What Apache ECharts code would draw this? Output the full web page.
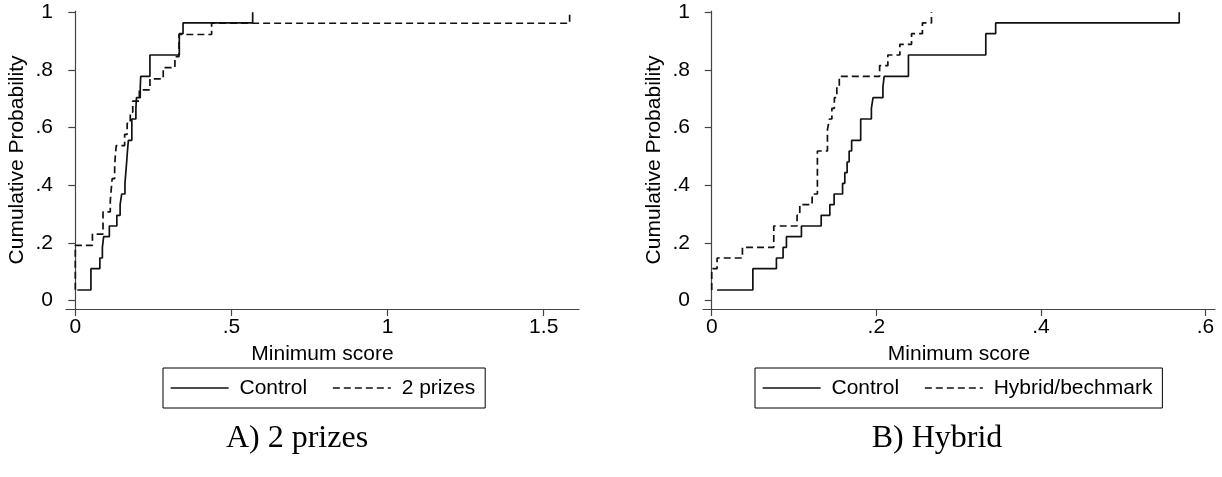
<!DOCTYPE html>
<html>
<head>
<meta charset="utf-8">
<script src="https://cdn.jsdelivr.net/npm/echarts@6/dist/echarts.min.js"></script>
<style>
  html, body { margin: 0; padding: 0; background: #fff; }
  #chart { width: 1222px; height: 477px; }
</style>
</head>
<body>
<div id="chart"></div>
<script>
// 数据: 最低分 / 累计概率
const controlScore = [0.0065, 0.050, 0.0786, 0.0867, 0.0908, 0.109, 0.133, 0.1435, 0.1487, 0.159, 0.1617, 0.1645, 0.167, 0.170, 0.181, 0.194, 0.196, 0.208, 0.2095, 0.239, 0.333, 0.345, 0.568]
const controlProb = [0.037, 0.111, 0.148, 0.185, 0.222, 0.259, 0.296, 0.333, 0.370, 0.407, 0.444, 0.481, 0.519, 0.556, 0.630, 0.667, 0.704, 0.741, 0.778, 0.852, 0.926, 0.963, 1]

const prizesScore = [0, 0, 0.0548, 0.0888, 0.112, 0.115, 0.118, 0.126, 0.128, 0.131, 0.158, 0.166, 0.176, 0.184, 0.205, 0.239, 0.2816, 0.319, 0.332, 0.4365, 1.583]
const prizesProb = [0.038, 0.192, 0.231, 0.308, 0.346, 0.385, 0.423, 0.462, 0.500, 0.538, 0.577, 0.615, 0.654, 0.692, 0.731, 0.769, 0.808, 0.846, 0.923, 0.962, 1]

const hybridScore = [0, 0, 0.0065, 0.0373, 0.0754, 0.1037, 0.107, 0.122, 0.1284, 0.1406, 0.143, 0.146, 0.149, 0.152, 0.155, 0.204, 0.214, 0.2286, 0.2428, 0.256, 0.267]
const hybridProb = [0.037, 0.111, 0.148, 0.185, 0.259, 0.296, 0.333, 0.370, 0.519, 0.593, 0.630, 0.667, 0.704, 0.741, 0.778, 0.815, 0.852, 0.889, 0.926, 0.963, 1]

// 刻度
const yTicks = [0, 0.2, 0.4, 0.6, 0.8, 1]
const xTicksA = [0, 0.5, 1, 1.5]
const xTicksB = [0, 0.2, 0.4, 0.6]

const font = 'Liberation Sans'
const lineColor = '#111'
const axisColor = '#444'
const dash = [7, 4]

function pairs(xs, ys) {
    let out = []
    for (let i = 0; i < xs.length; i++) {
        out.push([xs[i], ys[i]])
    }
    return out
}

// 0.2 -> '.2'
function stataLabel(v) {
    return String(+v.toFixed(2)).replace(/^0\./, '.')
}

function xAxisOf(gridIndex, min, max, ticks) {
    return {
        type: 'value',
        gridIndex: gridIndex,
        min: min,
        max: max,
        name: 'Minimum score',
        nameLocation: 'middle',
        nameGap: 35,
        nameTextStyle: { fontFamily: font, fontSize: 21, color: '#000' },
        axisLine: { show: true, onZero: false, lineStyle: { color: axisColor, width: 1.2 } },
        axisTick: { show: true, length: 7, customValues: ticks, lineStyle: { color: axisColor, width: 1.2 } },
        axisLabel: {
            customValues: ticks,
            margin: 8,
            fontFamily: font,
            fontSize: 21,
            color: '#000',
            formatter: stataLabel
        },
        splitLine: { show: false }
    }
}

function yAxisOf(gridIndex) {
    return {
        type: 'value',
        gridIndex: gridIndex,
        min: -0.0288,
        max: 1.0045,
        name: 'Cumulative Probability',
        nameLocation: 'middle',
        nameGap: 38,
        nameRotate: 90,
        nameTextStyle: { fontFamily: font, fontSize: 21, color: '#000' },
        axisLine: { show: true, lineStyle: { color: axisColor, width: 1.2 } },
        axisTick: { show: true, length: 7, customValues: yTicks, lineStyle: { color: axisColor, width: 1.2 } },
        axisLabel: {
            customValues: yTicks,
            margin: 13,
            fontFamily: font,
            fontSize: 21,
            color: '#000',
            formatter: stataLabel
        },
        splitLine: { show: false }
    }
}

function stepSeries(name, data, axisIndex, dashed) {
    return {
        name: name,
        type: 'line',
        step: 'end',
        data: data,
        xAxisIndex: axisIndex,
        yAxisIndex: axisIndex,
        symbol: 'none',
        showSymbol: false,
        lineStyle: { color: lineColor, width: 1.7, type: dashed ? dash : 'solid' },
        itemStyle: { color: lineColor }
    }
}

function legendOf(left, names) {
    return {
        left: left,
        top: 368,
        orient: 'horizontal',
        data: names,
        itemWidth: 58,
        itemHeight: 14,
        itemGap: 25,
        padding: [9, 10, 9, 7],
        borderColor: '#000',
        borderWidth: 1,
        selectedMode: false,
        formatter: ' {name}',
        // 只画线，不画圆点
        itemStyle: { opacity: 0 },
        lineStyle: { width: 1.3 },
        textStyle: { fontFamily: font, fontSize: 21, color: '#000', lineHeight: 22 }
    }
}

let myChart = echarts.init(document.getElementById('chart'))
myChart.setOption({
    animation: false,
    backgroundColor: '#fff',
    // 子图标题
    title: [
        {
            text: 'A) 2 prizes',
            left: 292,
            top: 418,
            textAlign: 'center',
            textStyle: { fontFamily: 'Liberation Serif', fontSize: 32, fontWeight: 'normal', color: '#000' }
        },
        {
            text: 'B) Hybrid',
            left: 932,
            top: 418,
            textAlign: 'center',
            textStyle: { fontFamily: 'Liberation Serif', fontSize: 32, fontWeight: 'normal', color: '#000' }
        }
    ],
    grid: [
        { left: 66, top: 11, width: 513, height: 298 },
        { left: 703, top: 11, width: 512, height: 298 }
    ],
    xAxis: [
        xAxisOf(0, -0.0298, 1.613, xTicksA),
        xAxisOf(1, -0.0106, 0.6115, xTicksB)
    ],
    yAxis: [yAxisOf(0), yAxisOf(1)],
    legend: [
        legendOf(163, ['Control', '2 prizes']),
        legendOf(755, ['Control', 'Hybrid/bechmark'])
    ],
    series: [
        stepSeries('Control', pairs(controlScore, controlProb), 0, false),
        stepSeries('2 prizes', pairs(prizesScore, prizesProb), 0, true),
        stepSeries('Control', pairs(controlScore, controlProb), 1, false),
        stepSeries('Hybrid/bechmark', pairs(hybridScore, hybridProb), 1, true)
    ]
})
</script>
</body>
</html>
